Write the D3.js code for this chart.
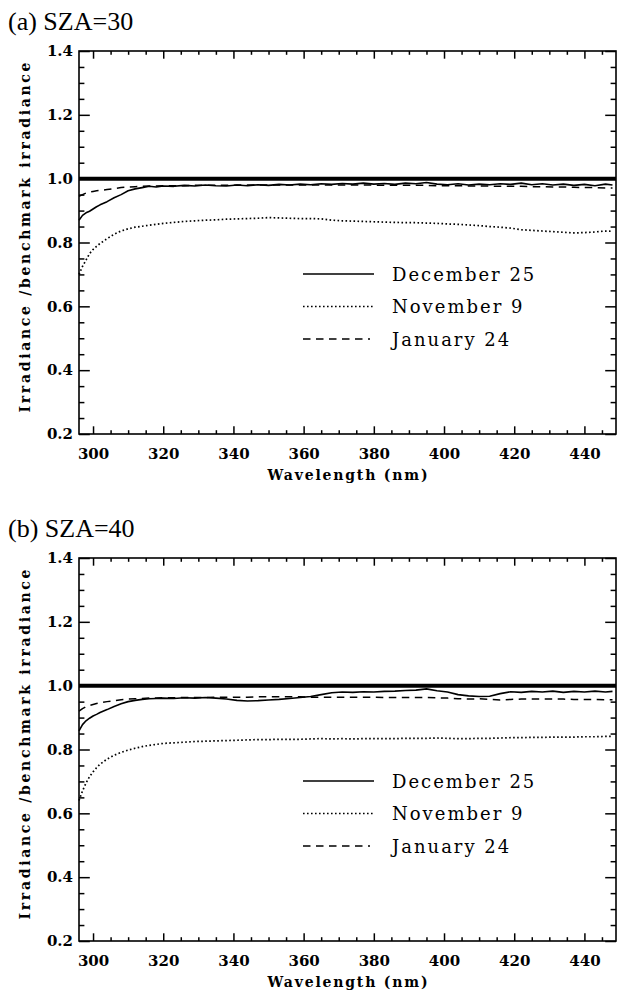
<!DOCTYPE html>
<html><head><meta charset="utf-8">
<script src="https://cdn.jsdelivr.net/npm/d3@7"></script>
<style>
html,body{margin:0;padding:0;background:#fff;}
svg{display:block;}
</style>
</head><body>
<script>
// ---- data ----
const wavelengths = [296,297,298,299,300,301,302,304,306,308,310,312,314,316,318,320,323,326,329,332,335,338,341,344,347,350,353,356,359,362,365,368,371,374,377,380,383,386,389,392,395,398,401,404,407,410,413,416,419,422,425,428,431,434,437,440,443,446,448];

const decA = [0.870,0.885,0.893,0.898,0.905,0.912,0.918,0.928,0.940,0.950,0.962,0.968,0.972,0.976,0.974,0.977,0.976,0.979,0.977,0.980,0.978,0.977,0.980,0.978,0.981,0.979,0.982,0.980,0.983,0.981,0.984,0.982,0.985,0.983,0.986,0.983,0.985,0.982,0.986,0.984,0.988,0.983,0.981,0.984,0.980,0.983,0.981,0.984,0.982,0.986,0.981,0.984,0.980,0.983,0.979,0.982,0.978,0.983,0.980];
const novA = [0.700,0.725,0.745,0.765,0.778,0.788,0.797,0.812,0.826,0.836,0.843,0.848,0.851,0.854,0.857,0.860,0.863,0.866,0.868,0.870,0.871,0.873,0.874,0.875,0.876,0.878,0.877,0.876,0.875,0.875,0.874,0.870,0.868,0.867,0.866,0.865,0.864,0.863,0.862,0.862,0.861,0.860,0.858,0.857,0.855,0.853,0.850,0.848,0.845,0.840,0.838,0.836,0.834,0.832,0.830,0.831,0.833,0.836,0.835];
const janA = [0.945,0.950,0.955,0.958,0.960,0.962,0.963,0.966,0.969,0.972,0.974,0.975,0.976,0.977,0.977,0.978,0.978,0.978,0.979,0.979,0.979,0.979,0.980,0.980,0.980,0.980,0.980,0.980,0.980,0.980,0.980,0.980,0.980,0.980,0.980,0.980,0.979,0.979,0.979,0.979,0.979,0.978,0.978,0.978,0.977,0.977,0.977,0.976,0.976,0.976,0.975,0.975,0.974,0.974,0.973,0.972,0.972,0.971,0.971];

const decB = [0.858,0.878,0.890,0.898,0.905,0.910,0.916,0.925,0.935,0.943,0.950,0.954,0.957,0.959,0.960,0.961,0.960,0.962,0.961,0.963,0.961,0.958,0.954,0.952,0.953,0.955,0.957,0.960,0.963,0.966,0.972,0.978,0.980,0.979,0.981,0.980,0.982,0.983,0.985,0.986,0.990,0.984,0.980,0.972,0.968,0.966,0.967,0.975,0.981,0.979,0.982,0.980,0.983,0.979,0.982,0.980,0.983,0.980,0.982];
const novB = [0.640,0.670,0.695,0.715,0.730,0.743,0.754,0.770,0.782,0.791,0.798,0.804,0.809,0.813,0.816,0.819,0.821,0.823,0.825,0.826,0.827,0.828,0.829,0.830,0.831,0.831,0.832,0.832,0.832,0.833,0.834,0.833,0.834,0.833,0.834,0.834,0.834,0.834,0.835,0.835,0.835,0.836,0.835,0.834,0.834,0.835,0.835,0.836,0.837,0.837,0.838,0.838,0.839,0.839,0.839,0.840,0.840,0.841,0.841];
const janB = [0.920,0.928,0.934,0.938,0.941,0.944,0.946,0.950,0.953,0.956,0.958,0.959,0.960,0.961,0.961,0.962,0.962,0.963,0.963,0.963,0.964,0.964,0.964,0.964,0.965,0.965,0.965,0.965,0.965,0.964,0.964,0.964,0.964,0.964,0.964,0.964,0.963,0.963,0.963,0.963,0.963,0.962,0.961,0.959,0.958,0.959,0.957,0.955,0.957,0.958,0.958,0.958,0.958,0.958,0.957,0.957,0.957,0.956,0.956];

const benchmark = 1.0;
const seriesNames = ["December 25", "November 9", "January 24"];
const panelTitles = ["(a) SZA=30", "(b) SZA=40"];
const xTickValues = [300,320,340,360,380,400,420,440];
const yTickValues = [0.2,0.4,0.6,0.8,1.0,1.2,1.4];
const xDomain = [296, 449];
const yDomain = [0.2, 1.4];
const xLabel = "Wavelength (nm)";
const yLabel = "Irradiance /benchmark irradiance";

// ---- layout ----
const W = 617, H = 991;
const panels = [
  {title: panelTitles[0], top: 51, series: [decA, novA, janA]},
  {title: panelTitles[1], top: 558, series: [decB, novB, janB]}
];
const left = 79, right = 616, ph = 383;
const styles = [
  {w: 1.6, dash: null},
  {w: 1.7, dash: "1.6,2.4"},
  {w: 1.5, dash: "7.5,5.5"}
];
const tickFont = "'DejaVu Serif', serif";

const svg = d3.select("body").append("svg").attr("width", W).attr("height", H);

const x = d3.scaleLinear().domain(xDomain).range([left, right]);

const xMinor = d3.range(300, 450, 5).filter(v => v % 20 !== 0);
const yMinor = d3.range(0.25, 1.4, 0.05).map(v => +v.toFixed(2)).filter(v => Math.abs(v*5 - Math.round(v*5)) > 1e-6);

panels.forEach((p, pi) => {
  const top = p.top, bottom = top + ph;
  const y = d3.scaleLinear().domain(yDomain).range([bottom, top]);
  const g = svg.append("g");

  // title
  g.append("text").attr("x", 8).attr("y", top - 21)
    .attr("font-family", "'Liberation Serif', 'Times New Roman', serif")
    .attr("font-size", 26).text(p.title);

  // axes
  const styleAxis = sel => {
    sel.select(".domain").remove();
    sel.selectAll(".tick line").attr("stroke", "#000").attr("stroke-width", 1.5);
    sel.selectAll("text").attr("font-family", tickFont).attr("font-size", 15)
      .attr("font-weight", "bold").attr("fill", "#000");
  };
  g.append("g").attr("transform", `translate(0,${bottom})`)
    .call(d3.axisBottom(x).tickValues(xTickValues).tickSizeInner(-7.7).tickSizeOuter(0).tickPadding(14.8).tickFormat(d3.format("d")))
    .call(styleAxis);
  g.append("g").attr("transform", `translate(0,${bottom})`)
    .call(d3.axisBottom(x).tickValues(xMinor).tickSizeInner(-3.8).tickSizeOuter(0).tickFormat(""))
    .call(styleAxis);
  g.append("g").attr("transform", `translate(0,${top})`)
    .call(d3.axisTop(x).tickValues(xTickValues).tickSizeInner(-7.7).tickSizeOuter(0).tickFormat(""))
    .call(styleAxis);
  g.append("g").attr("transform", `translate(0,${top})`)
    .call(d3.axisTop(x).tickValues(xMinor).tickSizeInner(-3.8).tickSizeOuter(0).tickFormat(""))
    .call(styleAxis);
  g.append("g").attr("transform", `translate(${left},0)`)
    .call(d3.axisLeft(y).tickValues(yTickValues).tickSizeInner(-10.8).tickSizeOuter(0).tickPadding(6).tickFormat(d3.format(".1f")))
    .call(styleAxis);
  g.append("g").attr("transform", `translate(${left},0)`)
    .call(d3.axisLeft(y).tickValues(yMinor).tickSizeInner(-5.4).tickSizeOuter(0).tickFormat(""))
    .call(styleAxis);
  g.append("g").attr("transform", `translate(${right},0)`)
    .call(d3.axisRight(y).tickValues(yTickValues).tickSizeInner(-10.8).tickSizeOuter(0).tickFormat(""))
    .call(styleAxis);
  g.append("g").attr("transform", `translate(${right},0)`)
    .call(d3.axisRight(y).tickValues(yMinor).tickSizeInner(-5.4).tickSizeOuter(0).tickFormat(""))
    .call(styleAxis);

  // frame
  g.append("rect").attr("x", left).attr("y", top).attr("width", right - left).attr("height", ph)
    .attr("fill", "none").attr("stroke", "#000").attr("stroke-width", 1.6);

  // axis labels
  g.append("text").attr("x", (left + right) / 2).attr("y", bottom + 46)
    .attr("text-anchor", "middle").attr("font-family", tickFont).attr("font-weight", "bold")
    .attr("font-size", 14).attr("textLength", 160).attr("lengthAdjust", "spacing").text(xLabel);
  g.append("text").attr("transform", `translate(30,${(top + bottom) / 2 - 5}) rotate(-90)`)
    .attr("text-anchor", "middle").attr("font-family", tickFont).attr("font-weight", "bold")
    .attr("font-size", 14).attr("textLength", 350).attr("lengthAdjust", "spacing").text(yLabel);

  // benchmark line
  g.append("path").datum(xDomain)
    .attr("d", d3.line().x(d => x(d)).y(() => y(benchmark)))
    .attr("stroke", "#000").attr("stroke-width", 4).attr("fill", "none");

  // series
  const line = d3.line().x((d, i) => x(wavelengths[i])).y(d => y(d));
  p.series.forEach((s, si) => {
    const path = g.append("path").datum(s).attr("d", line)
      .attr("fill", "none").attr("stroke", "#000").attr("stroke-width", styles[si].w)
      .attr("stroke-linejoin", "round");
    if (styles[si].dash) path.attr("stroke-dasharray", styles[si].dash);
  });

  // legend
  const lg = g.append("g");
  seriesNames.forEach((name, si) => {
    const ly = top + 223 + si * 32.5;
    const ln = lg.append("line").attr("x1", 303).attr("x2", si === 2 ? 370 : 374)
      .attr("y1", ly).attr("y2", ly).attr("stroke", "#000").attr("stroke-width", styles[si].w);
    if (styles[si].dash) ln.attr("stroke-dasharray", styles[si].dash);
    lg.append("text").attr("x", 392).attr("y", ly + 6.5)
      .attr("font-family", tickFont).attr("font-size", 18)
      .style("letter-spacing", "2px").text(name);
  });
});
</script>
</body></html>
